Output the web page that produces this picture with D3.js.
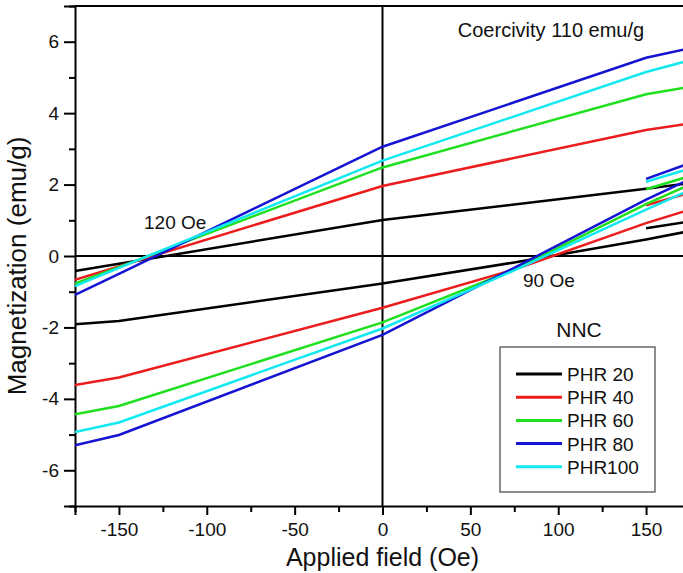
<!DOCTYPE html>
<html>
<head>
<meta charset="utf-8">
<script src="https://cdn.jsdelivr.net/npm/d3@7"></script>
<style>
  body { margin: 0; background: #fff; }
  svg { display: block; font-family: "Liberation Sans", Arial, sans-serif; }
</style>
</head>
<body>
<svg id="chart" width="683" height="573"></svg>
<script>
const fieldUpper = [-175, -150, 0, 150, 175];
const fieldLower = [-175, -150, 0, 75, 150, 175];
const fieldStub = [150, 175];

// magnetization (emu/g) for each sample
const phr20Upper = [-0.42, -0.22, 1.01, 1.88, 2.04];
const phr20Lower = [-1.91, -1.82, -0.77, -0.18, 0.46, 0.70];
const phr20Stub = [0.78, 0.97];

const phr40Upper = [-0.67, -0.29, 1.96, 3.53, 3.71];
const phr40Lower = [-3.61, -3.40, -1.45, -0.38, 0.92, 1.30];
const phr40Stub = [1.42, 1.77];

const phr60Upper = [-0.77, -0.31, 2.48, 4.53, 4.74];
const phr60Lower = [-4.43, -4.20, -1.86, -0.38, 1.45, 2.00];
const phr60Stub = [1.87, 2.24];

const phr80Upper = [-1.09, -0.50, 3.06, 5.55, 5.82];
const phr80Lower = [-5.30, -5.01, -2.21, -0.33, 1.58, 2.15];
const phr80Stub = [2.16, 2.60];

const phr100Upper = [-0.84, -0.33, 2.67, 5.15, 5.48];
const phr100Lower = [-4.93, -4.66, -2.03, -0.40, 1.30, 1.85];
const phr100Stub = [2.08, 2.45];

const seriesNames = ["PHR 20", "PHR 40", "PHR 60", "PHR 80", "PHR100"];
const seriesColors = ["#000000", "#ec1c1c", "#1fe01f", "#1414d2", "#12e8f0"];

const xMajor = [-150, -100, -50, 0, 50, 100, 150];
const xMinor = [-175, -125, -75, -25, 25, 75, 125, 175];
const yMajor = [-6, -4, -2, 0, 2, 4, 6];
const yMinor = [-7, -5, -3, -1, 1, 3, 5, 7];

const series = [
  { upper: phr20Upper, lower: phr20Lower, stub: phr20Stub },
  { upper: phr40Upper, lower: phr40Lower, stub: phr40Stub },
  { upper: phr60Upper, lower: phr60Lower, stub: phr60Stub },
  { upper: phr80Upper, lower: phr80Lower, stub: phr80Stub },
  { upper: phr100Upper, lower: phr100Lower, stub: phr100Stub }
].map((s, i) => ({ ...s, name: seriesNames[i], color: seriesColors[i] }));

const m = { left: 75, top: 6, bottom: 506, right: 690 };

const x = d3.scaleLinear().domain([-175, 175]).range([m.left, m.right]);
const y = d3.scaleLinear().domain([-7, 7]).range([m.bottom, m.top]);

const svg = d3.select("#chart");

svg.append("defs").append("clipPath").attr("id", "plot")
  .append("rect")
  .attr("x", m.left).attr("y", m.top)
  .attr("width", m.right - m.left).attr("height", m.bottom - m.top);

// axes
const fmt = d => String(d);

svg.append("g")
  .attr("transform", `translate(0,${m.bottom})`)
  .call(d3.axisBottom(x).tickValues(xMajor).tickSize(9).tickPadding(8).tickFormat(fmt));
svg.append("g")
  .attr("transform", `translate(0,${m.bottom})`)
  .call(d3.axisBottom(x).tickValues(xMinor).tickSize(6).tickFormat(""))
  .select(".domain").remove();

svg.append("g")
  .attr("transform", `translate(${m.left},0)`)
  .call(d3.axisLeft(y).tickValues(yMajor).tickSize(11).tickPadding(5).tickFormat(fmt));
svg.append("g")
  .attr("transform", `translate(${m.left},0)`)
  .call(d3.axisLeft(y).tickValues(yMinor).tickSize(6).tickFormat(""))
  .select(".domain").remove();

svg.selectAll(".tick line").attr("stroke", "#000").attr("stroke-width", 2);
svg.selectAll(".domain").attr("stroke", "#000").attr("stroke-width", 2);
svg.selectAll(".tick text").attr("font-size", 19).attr("fill", "#111")
  .attr("font-family", "\"Liberation Sans\", Arial, sans-serif");

// top frame
svg.append("line")
  .attr("x1", m.left).attr("x2", m.right)
  .attr("y1", m.top).attr("y2", m.top)
  .attr("stroke", "#000").attr("stroke-width", 2);

// zero lines
svg.append("line")
  .attr("x1", x(0)).attr("x2", x(0))
  .attr("y1", m.top).attr("y2", m.bottom)
  .attr("stroke", "#000").attr("stroke-width", 2);
svg.append("line")
  .attr("x1", m.left).attr("x2", m.right)
  .attr("y1", y(0)).attr("y2", y(0))
  .attr("stroke", "#000").attr("stroke-width", 2);

// curves
const line = d3.line().x(d => x(d[0])).y(d => y(d[1]));
const plot = svg.append("g").attr("clip-path", "url(#plot)");

series.forEach(s => {
  [[fieldUpper, s.upper], [fieldLower, s.lower], [fieldStub, s.stub]].forEach(([f, vals]) => {
    plot.append("path")
      .datum(f.map((v, i) => [v, vals[i]]))
      .attr("d", line)
      .attr("fill", "none")
      .attr("stroke", s.color)
      .attr("stroke-width", 2.5);
  });
});

// annotations
svg.append("text").attr("x", 551).attr("y", 37)
  .attr("text-anchor", "middle").attr("font-size", 20).attr("fill", "#111")
  .text("Coercivity 110 emu/g");
svg.append("text").attr("x", 144).attr("y", 229)
  .attr("font-size", 19).attr("fill", "#111")
  .text("120 Oe");
svg.append("text").attr("x", 523).attr("y", 287)
  .attr("font-size", 19).attr("fill", "#111")
  .text("90 Oe");

// axis titles
svg.append("text").attr("x", x(0)).attr("y", 566)
  .attr("text-anchor", "middle").attr("font-size", 25).attr("fill", "#111")
  .text("Applied field (Oe)");
svg.append("text")
  .attr("transform", "translate(26,266) rotate(-90)")
  .attr("text-anchor", "middle").attr("font-size", 26).attr("fill", "#111")
  .text("Magnetization (emu/g)");

// legend
svg.append("text").attr("x", 579).attr("y", 337)
  .attr("text-anchor", "middle").attr("font-size", 21).attr("fill", "#111")
  .text("NNC");

const legend = svg.append("g");
legend.append("rect")
  .attr("x", 500).attr("y", 347).attr("width", 155).attr("height", 145)
  .attr("fill", "#fff").attr("stroke", "#444").attr("stroke-width", 1.2);

const rows = legend.selectAll("g.row").data(series).enter()
  .append("g").attr("class", "row")
  .attr("transform", (d, i) => `translate(0,${374 + i * 23.2})`);
rows.append("line")
  .attr("x1", 516).attr("x2", 562)
  .attr("stroke", d => d.color).attr("stroke-width", 3);
rows.append("text")
  .attr("x", 567).attr("y", 7)
  .attr("font-size", 19).attr("fill", "#111")
  .text(d => d.name);
</script>
</body>
</html>
